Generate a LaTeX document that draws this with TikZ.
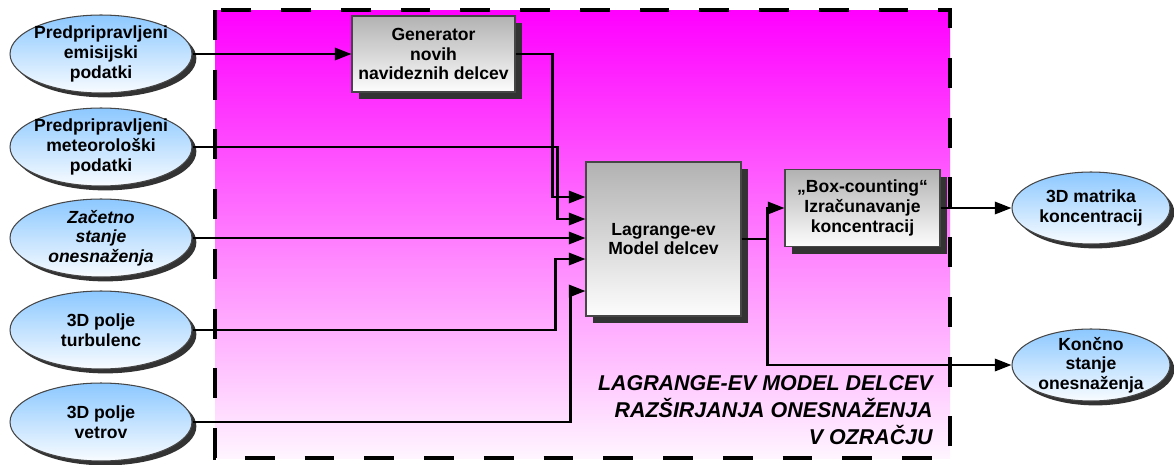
\documentclass[tikz,border=0pt]{standalone}
\usepackage{fontspec}
\setmainfont{Liberation Sans}
\usetikzlibrary{shapes.geometric, arrows.meta, shadows, calc}

\definecolor{ellblue}{RGB}{140,200,255}
\definecolor{boxgray}{RGB}{178,178,178}
\definecolor{edgegray}{RGB}{70,70,70}

\begin{document}
\begin{tikzpicture}[x=0.02cm, y=-0.02cm, >={Triangle[length=9.5pt,width=7pt]},
    ell/.style={draw=edgegray, line width=0.6pt, ellipse, inner sep=0pt, top color=ellblue, bottom color=white!94!ellblue, minimum width=3.64cm, minimum height=1.56cm, drop shadow={shadow xshift=2.5pt, shadow yshift=-2.5pt, opacity=1, fill=black!80}},
    etext/.style={align=center, inner sep=0pt, font=\fontsize{10}{11.2}\selectfont\bfseries},
    blok/.style={draw=edgegray, line width=0.6pt, rectangle, top color=boxgray, bottom color=white!97!boxgray, align=center, font=\fontsize{10}{11.3}\selectfont\bfseries, drop shadow={shadow xshift=4pt, shadow yshift=-4pt, opacity=1, fill=black!80}},
    flow/.style={->, line width=1.4pt},
    wire/.style={line width=1.4pt},
    frame/.style={line width=2.2pt, dash pattern=on 17pt off 17pt}]

    \useasboundingbox (0,0) rectangle (1174,464);

    % okvir modela
    \fill[top color=magenta, bottom color=magenta!4] (215,10) rectangle (950,458);
    \draw[frame] (215,10) rectangle (950,458);
    \node[anchor=east, align=right, inner sep=0pt, font=\fontsize{12.2}{15.3}\selectfont\bfseries\itshape] (naslov) at (933,410) {LAGRANGE-EV MODEL DELCEV\\RAZŠIRJANJA ONESNAŽENJA\\V OZRAČJU};

    % vhodni podatki
    \node[ell, label={[etext]center:Predpripravljeni\\emisijski\\podatki}] (emis) at (101,54) {};
    \node[ell, label={[etext]center:Predpripravljeni\\meteorološki\\podatki}] (meteo) at (101,147) {};
    \node[ell, label={[etext, font=\fontsize{10}{11.2}\selectfont\bfseries\itshape]center:Začetno\\stanje\\onesnaženja}] (zac) at (101,238) {};
    \node[ell, label={[etext]center:3D polje\\turbulenc}] (turb) at (101,330) {};
    \node[ell, label={[etext]center:3D polje\\vetrov}] (vet) at (101,422) {};

    % bloki
    \node[blok, minimum width=3.26cm, minimum height=1.52cm] (gen) at (433.5,54) {Generator\\novih\\navideznih delcev};
    \node[blok, minimum width=3.1cm, minimum height=3.08cm] (lag) at (663.5,239) {Lagrange-ev\\Model delcev};
    \node[blok, minimum width=3.1cm, minimum height=1.54cm] (box) at (862.5,208) {„Box-counting“\\Izračunavanje\\koncentracij};

    % izhodi
    \node[ell, minimum width=3.16cm, minimum height=1.44cm, label={[etext]center:3D matrika\\koncentracij}] (mat) at (1091,208) {};
    \node[ell, minimum width=3.16cm, minimum height=1.44cm, label={[etext]center:Končno\\stanje\\onesnaženja}] (konc) at (1091,365) {};

    \coordinate (in1) at ($(lag.west)+(0,-42)$);
    \coordinate (in2) at ($(lag.west)+(0,-20)$);
    \coordinate (in4) at ($(lag.west)+(0,20)$);
    \coordinate (in5) at ($(lag.west)+(0,52)$);

    \draw[flow] (emis) -- (gen);
    \draw[flow] (gen.east) -| ($(in1)+(-33,0)$) -- (in1);
    \draw[flow] (meteo.east) -| ($(in2)+(-28,0)$) -- (in2);
    \draw[flow] (zac.east) -- (zac.east -| lag.west);
    \draw[flow] (turb.east) -| ($(in4)+(-30,0)$) -- (in4);
    \draw[flow] (vet.east) -| ($(in5)+(-15,0)$) -- (in5);

    \draw[wire] (lag.east) -- ++(26,0) coordinate (split);
    \draw[flow] (split) |- (box.west);
    \draw[flow] (split) |- (konc.west);
    \draw[flow] (box.east) -- (mat.west);
\end{tikzpicture}
\end{document}
